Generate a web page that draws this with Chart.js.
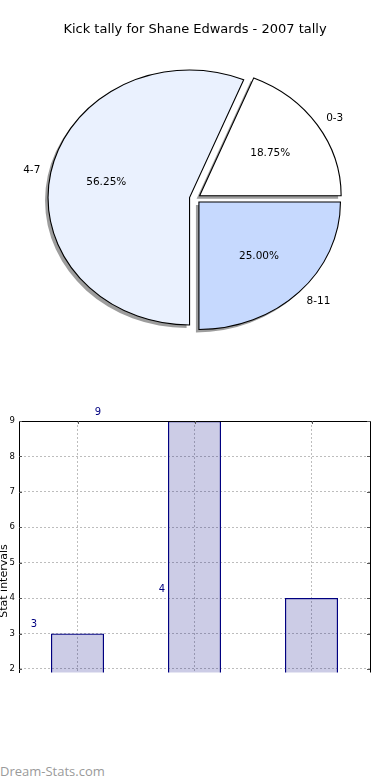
<!DOCTYPE html>
<html>
<head>
<meta charset="utf-8">
<script src="https://cdn.jsdelivr.net/npm/chart.js@4/dist/chart.umd.min.js"></script>
<style>
  html, body { margin: 0; padding: 0; background: #fff; }
  #wrap { position: relative; width: 390px; height: 780px; overflow: hidden; }
  #pie { position: absolute; left: 0; top: 0; }
  #bar { position: absolute; left: 0; top: 400px; }
  #mark { position: absolute; left: 0; top: 762px; font: 13px/18px 'Open Sans', sans-serif; color: #9a9a9a; }
</style>
</head>
<body>
<div id="wrap">
  <canvas id="pie" width="390" height="390"></canvas>
  <canvas id="bar" width="390" height="300"></canvas>
  <div id="mark">Dream-Stats.com</div>
</div>
<script>
const chartTitle = 'Kick tally for Shane Edwards - 2007 tally';
const categories = ['0-3', '4-7', '8-11'];
const kickCounts = [3, 9, 4];
const sliceColors = ['#ffffff', '#eaf1fe', '#c6d9fe'];
const yTicks = [2, 3, 4, 5, 6, 7, 8, 9];
const yAxisTitle = 'Stat intervals';

const FONT = "'DejaVu Sans', sans-serif";
const STRETCH = 1.11;   // the original pie is a bit wider than tall
const EXPLODE = 5;      // px each slice is pulled out
const total = kickCounts.reduce((a, b) => a + b, 0);

// matplotlib runs counter-clockwise from 3 o'clock, chart.js clockwise, so reverse
const pieLabels = categories.slice().reverse();
const pieValues = kickCounts.slice().reverse();
const pieColors = sliceColors.slice().reverse();

const piePlugin = {
    id: 'piePlugin',
    afterDatasetUpdate(chart, args) {
        chart.getDatasetMeta(args.index).data.forEach(arc => {
            const mid = (arc.startAngle + arc.endAngle) / 2;
            arc.x += Math.cos(mid) * EXPLODE;
            arc.y += Math.sin(mid) * EXPLODE;
        });
    },
    beforeDatasetsDraw(chart) {
        const ctx = chart.ctx;
        const cx = (chart.chartArea.left + chart.chartArea.right) / 2;
        ctx.save();
        ctx.translate(cx, 0);
        ctx.scale(STRETCH, 1);
        ctx.translate(-cx, 0);
        // drop shadow, down and to the left
        ctx.fillStyle = 'rgba(60,60,60,0.5)';
        chart.getDatasetMeta(0).data.forEach(arc => {
            const x = arc.x - 3 / STRETCH, y = arc.y + 3;
            ctx.beginPath();
            ctx.moveTo(x, y);
            ctx.arc(x, y, arc.outerRadius, arc.startAngle, arc.endAngle);
            ctx.closePath();
            ctx.fill();
        });
    },
    afterDatasetsDraw(chart) {
        const ctx = chart.ctx;
        ctx.restore();
        const cx = (chart.chartArea.left + chart.chartArea.right) / 2;
        ctx.save();
        ctx.font = '10.5px ' + FONT;
        ctx.fillStyle = '#000';
        ctx.textBaseline = 'middle';
        chart.getDatasetMeta(0).data.forEach((arc, i) => {
            const mid = (arc.startAngle + arc.endAngle) / 2;
            const r = arc.outerRadius;
            const ox = cx + (arc.x - cx) * STRETCH;
            const c = Math.cos(mid), s = Math.sin(mid);
            ctx.textAlign = c > 0 ? 'left' : 'right';
            ctx.fillText(chart.data.labels[i], ox + c * r * 1.1 * 1.085, arc.y + s * r * 1.1);
            ctx.textAlign = 'center';
            const v = chart.data.datasets[0].data[i];
            ctx.fillText((v / total * 100).toFixed(2) + '%', ox + c * r * 0.6 * STRETCH, arc.y + s * r * 0.6);
        });
        ctx.restore();
    }
};

new Chart(document.getElementById('pie'), {
    type: 'pie',
    data: {
        labels: pieLabels,
        datasets: [{
            data: pieValues,
            backgroundColor: pieColors,
            borderColor: '#000',
            borderWidth: 1,
            borderJoinStyle: 'miter',
            offset: 0,
            hoverOffset: 0
        }]
    },
    options: {
        responsive: false,
        animation: false,
        events: [],
        rotation: 90,
        radius: 127.5,
        layout: { padding: { top: 0, bottom: 40.8, left: 0, right: 0 } },
        plugins: {
            legend: { display: false },
            tooltip: { enabled: false },
            title: {
                display: true,
                text: chartTitle,
                color: '#000',
                font: { family: FONT, size: 13, weight: 'normal' },
                padding: { top: 22.2, bottom: 10 }
            }
        }
    },
    plugins: [piePlugin]
});

const barPlugin = {
    id: 'barPlugin',
    afterDraw(chart) {
        const ctx = chart.ctx;
        const a = chart.chartArea;
        const xs = chart.scales.x, ys = chart.scales.y;
        ctx.save();
        // top and right of the frame (bottom is cut off in the original)
        ctx.strokeStyle = '#000';
        ctx.lineWidth = 1;
        ctx.beginPath();
        ctx.moveTo(a.left, a.top + 0.5);
        ctx.lineTo(a.right + 0.5, a.top + 0.5);
        ctx.lineTo(a.right + 0.5, a.bottom);
        ctx.stroke();
        // inward tick marks
        ctx.strokeStyle = '#555';
        ctx.beginPath();
        yTicks.forEach(v => {
            const y = Math.round(ys.getPixelForValue(v)) + 0.5;
            ctx.moveTo(a.left, y); ctx.lineTo(a.left + 3, y);
            ctx.moveTo(a.right - 3, y); ctx.lineTo(a.right, y);
        });
        categories.forEach((c, i) => {
            const x = Math.round(xs.getPixelForValue(i)) + 0.5;
            ctx.moveTo(x, a.top); ctx.lineTo(x, a.top + 3);
        });
        ctx.stroke();
        // value labels, sitting a little left of and above the bars like the original
        ctx.font = '10px ' + FONT;
        ctx.fillStyle = '#000080';
        ctx.textAlign = 'center';
        ctx.textBaseline = 'middle';
        kickCounts.forEach((v, i) => {
            ctx.fillText(String(v), xs.getPixelForValue(-0.372 + i * 0.547), ys.getPixelForValue(v + 0.25));
        });
        // y axis title, centred on the uncropped axis
        ctx.font = '11px ' + FONT;
        ctx.fillStyle = '#000';
        ctx.translate(7, 181);
        ctx.rotate(-Math.PI / 2);
        ctx.textBaseline = 'alphabetic';
        ctx.fillText(yAxisTitle, 0, 0);
        ctx.restore();
    }
};

new Chart(document.getElementById('bar'), {
    type: 'bar',
    data: {
        labels: categories,
        datasets: [{
            data: kickCounts,
            backgroundColor: 'rgba(0,0,128,0.2)',
            borderColor: '#000080',
            borderWidth: 1.2,
            borderSkipped: 'start',
            barPercentage: 53 / 117,
            categoryPercentage: 1
        }]
    },
    options: {
        responsive: false,
        animation: false,
        events: [],
        layout: { padding: { top: 21, right: 20, bottom: 27.5, left: 0 } },
        plugins: {
            legend: { display: false },
            tooltip: { enabled: false }
        },
        scales: {
            x: {
                offset: true,
                afterFit: s => { s.height = 0; },
                ticks: { display: false },
                grid: { offset: false, color: '#bdbdbd', lineWidth: 1, drawTicks: false },
                border: { display: false, dash: [2, 2] }
            },
            y: {
                min: 1.9,
                max: 9,
                afterBuildTicks: s => { s.ticks = yTicks.map(v => ({ value: v })); },
                afterFit: s => { s.width = 19; },
                ticks: { color: '#000', padding: 4, font: { family: FONT, size: 8.5 } },
                grid: { color: '#bdbdbd', lineWidth: 1, drawTicks: false },
                border: { display: true, color: '#000', width: 1, dash: [2, 2] }
            }
        }
    },
    plugins: [barPlugin]
});
</script>
</body>
</html>
